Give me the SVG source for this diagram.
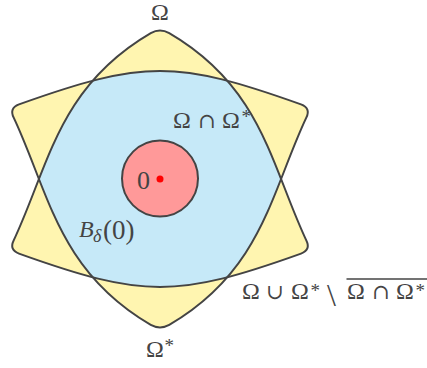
<svg xmlns="http://www.w3.org/2000/svg" xmlns:xlink="http://www.w3.org/1999/xlink" width="427" height="368" viewBox="0 0 427 368">
  <style>
    .outline { fill: none; stroke: #444; stroke-width: 2; stroke-linejoin: round; }
    .yellow { fill: #FFF5B0; stroke: none; }
    .blue { fill: #C6E9F8; stroke: none; }
    .lbl { font-family: "Liberation Serif", "DejaVu Serif", serif; font-size: 24px; fill: #444; }
    .sup { font-size: 19px; }
    .op { font-family: "DejaVu Serif", serif; font-size: 21px; }
    .bs { font-size: 32px; }
    .it { font-style: italic; }
  </style>
  <defs>
    <path id="om" d="M 150.76,33.15 C 58.07,87.21 48.92,165.53 13.70,240.36 Q 9,250 19.00,253.60 C 143.29,298.09 176.71,298.09 301.0,253.6 Q 311,250 306.30,240.36 C 271.08,165.53 261.93,87.21 169.24,33.15 Q 160,28 150.76,33.15 Z"/>
    <clipPath id="clipOmega">
      <use xlink:href="#om"/>
    </clipPath>
  </defs>

  <g id="omega">
    <use xlink:href="#om" class="yellow"/>
  </g>
  <g id="omega-star">
    <use xlink:href="#om" class="yellow" transform="matrix(1 0 0 -1 0 358)"/>
  </g>
  <g id="intersection">
    <g clip-path="url(#clipOmega)">
      <use xlink:href="#om" class="blue" transform="matrix(1 0 0 -1 0 358)"/>
    </g>
  </g>
  <g id="outlines">
    <use xlink:href="#om" class="outline"/>
    <use xlink:href="#om" class="outline" transform="matrix(1 0 0 -1 0 358)"/>
  </g>

  <g id="ball">
    <circle cx="160" cy="178.5" r="38" fill="#FF9999" stroke="#444" stroke-width="2"/>
    <circle cx="160" cy="179" r="3.5" fill="#FF0000"/>
    <text class="lbl" x="143.5" y="188.5" text-anchor="middle" style="font-size:26px">0</text>
  </g>

  <g id="connectors"/>

  <g id="labels">
    <text class="lbl" x="160" y="19.5" text-anchor="middle">Ω</text>
    <text class="lbl"><tspan x="173" y="128">Ω</tspan><tspan class="op" x="198" y="128">∩</tspan><tspan x="222" y="128">Ω</tspan><tspan class="sup" x="241.5" y="123">*</tspan></text>
    <text class="lbl"><tspan class="it" x="79" y="237">B</tspan><tspan class="it" style="font-size:18px" x="93" y="242">δ</tspan><tspan x="103" y="239" style="font-size:27px">(0)</tspan></text>
    <text class="lbl"><tspan x="146" y="357">Ω</tspan><tspan class="sup" x="164.5" y="352">*</tspan></text>
    <text class="lbl"><tspan x="242" y="299">Ω</tspan><tspan class="op" x="266" y="299">∪</tspan><tspan x="291" y="299">Ω</tspan><tspan class="sup" x="310.5" y="297">*</tspan><tspan class="bs" x="327" y="306">\</tspan><tspan x="347" y="299">Ω</tspan><tspan class="op" x="372" y="299">∩</tspan><tspan x="396" y="299">Ω</tspan><tspan class="sup" x="415.5" y="297">*</tspan></text>
    <line x1="346.5" y1="279" x2="427" y2="279" stroke="#444" stroke-width="1.5"/>
  </g>
</svg>
